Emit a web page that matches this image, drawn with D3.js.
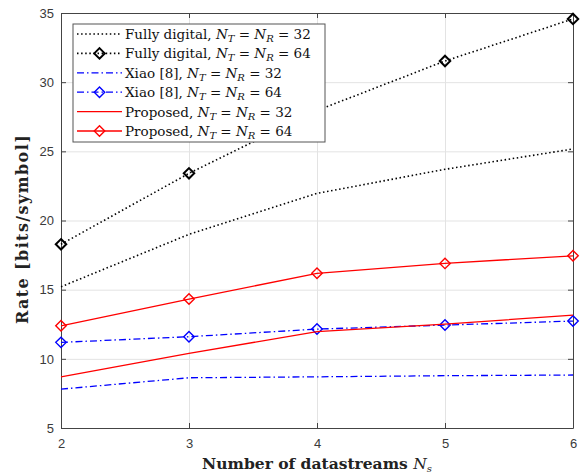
<!DOCTYPE html>
<html>
<head>
<meta charset="utf-8">
<script src="https://cdn.jsdelivr.net/npm/d3@7"></script>
<style>
  body { margin: 0; background: #fff; }
  .tick text { font-family: "Liberation Sans", Arial, sans-serif; font-size: 13px; fill: #3a3a3a; }
  .label { font-family: "DejaVu Serif", serif; font-weight: bold; font-size: 15.5px; fill: #222; }
  .legend text { font-family: "DejaVu Serif", serif; font-size: 13.5px; fill: #111; }
</style>
</head>
<body>
<div id="chart"></div>
<script>
// data
var streams = [2, 3, 4, 5, 6];
var fullyDigital32 = [15.21, 19.0, 21.96, 23.7, 25.17];
var fullyDigital64 = [18.28, 23.41, 27.95, 31.53, 34.57];
var xiao32 = [7.81, 8.63, 8.7, 8.78, 8.83];
var xiao64 = [11.19, 11.6, 12.15, 12.44, 12.73];
var proposed32 = [8.7, 10.4, 11.96, 12.51, 13.16];
var proposed64 = [12.39, 14.32, 16.18, 16.9, 17.45];
var yTicks = [5, 10, 15, 20, 25, 30, 35];

var series = [
  { name: "Fully digital, ", n: "32", values: fullyDigital32, color: "#000", dash: "1.5,2.6", marker: false },
  { name: "Fully digital, ", n: "64", values: fullyDigital64, color: "#000", dash: "1.5,2.6", marker: true },
  { name: "Xiao [8], ", n: "32", values: xiao32, color: "#0000ff", dash: "7,3,1.5,3", marker: false },
  { name: "Xiao [8], ", n: "64", values: xiao64, color: "#0000ff", dash: "7,3,1.5,3", marker: true },
  { name: "Proposed, ", n: "32", values: proposed32, color: "#ff0000", dash: null, marker: false },
  { name: "Proposed, ", n: "64", values: proposed64, color: "#ff0000", dash: null, marker: true }
];

var margin = { top: 13, right: 9, bottom: 46, left: 61 },
    width = 582 - margin.left - margin.right,
    height = 474 - margin.top - margin.bottom;

var svg = d3.select("#chart")
  .append("svg")
  .attr("width", 582)
  .attr("height", 474)
  .append("g")
  .attr("transform", "translate(" + margin.left + "," + margin.top + ")");

var x = d3.scaleLinear().domain([2, 6]).range([0, width]);
var y = d3.scaleLinear().domain([5, 35]).range([height, 0]);

// grid lines
svg.append("g")
  .attr("class", "grid")
  .attr("transform", "translate(0," + height + ")")
  .call(d3.axisBottom(x).tickValues(streams).tickSize(-height).tickFormat(""));
svg.append("g")
  .attr("class", "grid")
  .call(d3.axisLeft(y).tickValues(yTicks).tickSize(-width).tickFormat(""));
svg.selectAll(".grid .domain").remove();
svg.selectAll(".grid line").attr("stroke", "#e3e3e3").attr("stroke-width", 1);

// axes (ticks pointing inward, box on)
var axisColor = "#444";
svg.append("g")
  .attr("transform", "translate(0," + height + ")")
  .call(d3.axisBottom(x).tickValues(streams).tickSizeInner(-5).tickSizeOuter(0).tickPadding(11).tickFormat(d3.format("d")));
svg.append("g")
  .call(d3.axisLeft(y).tickValues(yTicks).tickSizeInner(-5).tickSizeOuter(0).tickPadding(7));
svg.append("g")
  .call(d3.axisTop(x).tickValues(streams).tickSizeInner(-5).tickSizeOuter(0).tickFormat(""));
svg.append("g")
  .attr("transform", "translate(" + width + ",0)")
  .call(d3.axisRight(y).tickValues(yTicks).tickSizeInner(-5).tickSizeOuter(0).tickFormat(""));
svg.selectAll(".domain").attr("stroke", axisColor);
svg.selectAll(".tick line").filter(function () { return !this.closest(".grid"); }).attr("stroke", axisColor);

// lines
var line = d3.line()
  .x(function (d, i) { return x(streams[i]); })
  .y(function (d) { return y(d); });

var diamond = d3.symbol().type(d3.symbolDiamond2).size(70);

series.forEach(function (s) {
  svg.append("path")
    .datum(s.values)
    .attr("fill", "none")
    .attr("stroke", s.color)
    .attr("stroke-width", s.color === "#000" ? 1.6 : 1.3)
    .attr("stroke-dasharray", s.dash)
    .attr("d", line);
  if (s.marker) {
    svg.selectAll(null)
      .data(s.values)
      .enter()
      .append("path")
      .attr("d", diamond)
      .attr("transform", function (d, i) { return "translate(" + x(streams[i]) + "," + y(d) + ")"; })
      .attr("fill", "none")
      .attr("stroke", s.color)
      .attr("stroke-width", s.color === "#000" ? 2 : 1.4);
  }
});

// axis labels
svg.append("text")
  .attr("class", "label")
  .attr("text-anchor", "middle")
  .attr("x", width / 2)
  .attr("y", height + 41)
  .text("Number of datastreams ")
  .append("tspan")
  .style("font-style", "italic")
  .style("font-weight", "normal")
  .text("N")
  .append("tspan")
  .attr("font-size", "10px")
  .attr("dy", 3)
  .text("s");

svg.append("text")
  .attr("class", "label")
  .attr("text-anchor", "middle")
  .attr("transform", "rotate(-90)")
  .attr("x", -216)
  .attr("y", -33)
  .style("font-size", "16px")
  .style("letter-spacing", "1.4px")
  .text("Rate [bits/symbol]");

// legend
var legend = svg.append("g")
  .attr("class", "legend")
  .attr("transform", "translate(12,11)");
legend.append("rect")
  .attr("width", 252)
  .attr("height", 118)
  .attr("fill", "#fff")
  .attr("stroke", "#555")
  .attr("stroke-width", 1);

series.forEach(function (s, i) {
  var row = legend.append("g").attr("transform", "translate(0," + (10 + i * 19.4) + ")");
  row.append("line")
    .attr("x1", 4).attr("x2", 49)
    .attr("stroke", s.color)
    .attr("stroke-width", s.color === "#000" ? 1.6 : 1.3)
    .attr("stroke-dasharray", s.dash);
  if (s.marker) {
    row.append("path")
      .attr("d", diamond)
      .attr("transform", "translate(26.5,0)")
      .attr("fill", "none")
      .attr("stroke", s.color)
      .attr("stroke-width", s.color === "#000" ? 2 : 1.4);
  }
  var t = row.append("text").attr("x", 52).attr("y", 5);
  t.append("tspan").text(s.name);
  t.append("tspan").style("font-style", "italic").text("N");
  t.append("tspan").attr("font-size", "10px").attr("dy", 3).style("font-style", "italic").text("T");
  t.append("tspan").attr("dy", -3).text(" = ");
  t.append("tspan").style("font-style", "italic").text("N");
  t.append("tspan").attr("font-size", "10px").attr("dy", 3).style("font-style", "italic").text("R");
  t.append("tspan").attr("dy", -3).text(" = " + s.n);
});
</script>
</body>
</html>
